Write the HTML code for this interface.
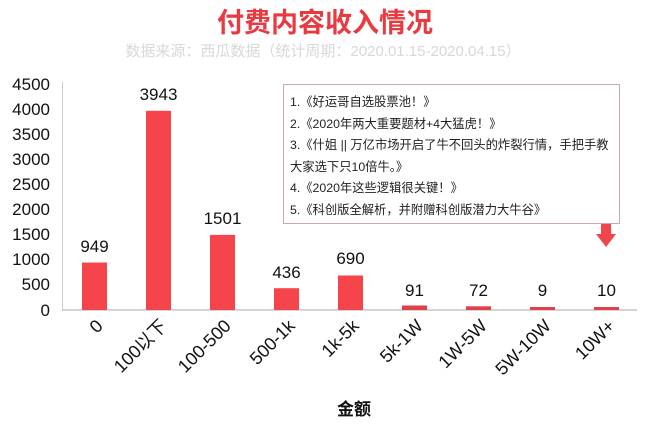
<!DOCTYPE html>
<html><head><meta charset="utf-8"><style>
body{margin:0;background:#fff;}
svg{display:block;font-family:"Liberation Sans","Noto Sans CJK SC",sans-serif;}
</style></head><body>
<svg width="650" height="433" viewBox="0 0 650 433" xmlns="http://www.w3.org/2000/svg">
<rect width="650" height="433" fill="#fff"/>
<text x="325" y="32" text-anchor="middle" font-size="27" font-weight="bold" fill="#e83a40">付费内容收入情况</text>
<text x="323" y="56" text-anchor="middle" font-size="15" fill="#d8d8d8">数据来源：西瓜数据（统计周期：2020.01.15-2020.04.15）</text>
<g font-size="17" fill="#111" text-anchor="end">
<text x="50" y="90">4500</text><text x="50" y="115">4000</text><text x="50" y="140">3500</text>
<text x="50" y="165">3000</text><text x="50" y="190">2500</text><text x="50" y="215">2000</text>
<text x="50" y="240">1500</text><text x="50" y="265">1000</text><text x="50" y="290">500</text>
<text x="50" y="316">0</text>
</g>
<line x1="62.5" y1="82" x2="62.5" y2="310" stroke="#ccc"/>
<line x1="62" y1="310" x2="637" y2="310" stroke="#bbb" stroke-width="1.2"/>
<g fill="#f5444a">
<rect x="82" y="262.5" width="25" height="47.5"/>
<rect x="146" y="110.8" width="25" height="199.2"/>
<rect x="210" y="234.9" width="25" height="75.1"/>
<rect x="274" y="288.2" width="25" height="21.8"/>
<rect x="338" y="275.5" width="25" height="34.5"/>
</g>
<g fill="#e04048">
<rect x="402" y="305.5" width="25" height="4.5"/>
<rect x="466" y="306.3" width="25" height="3.7"/>
<rect x="530" y="307" width="25" height="3"/>
<rect x="594" y="307" width="25" height="3"/>
</g>
<g font-size="17" fill="#111" text-anchor="middle">
<text x="94.5" y="252">949</text><text x="158.5" y="100">3943</text><text x="222.5" y="224">1501</text>
<text x="286.5" y="278">436</text><text x="350.5" y="264">690</text><text x="414.5" y="296">91</text>
<text x="478.5" y="296">72</text><text x="542.5" y="296">9</text><text x="606.5" y="296">10</text>
</g>
<g font-size="18" fill="#111" text-anchor="end">
<text transform="translate(104,327) rotate(-45)">0</text>
<text transform="translate(168,327) rotate(-45)">100以下</text>
<text transform="translate(232,327) rotate(-45)">100-500</text>
<text transform="translate(296,327) rotate(-45)">500-1k</text>
<text transform="translate(360,327) rotate(-45)">1k-5k</text>
<text transform="translate(424,327) rotate(-45)">5k-1W</text>
<text transform="translate(488,327) rotate(-45)">1W-5W</text>
<text transform="translate(552,327) rotate(-45)">5W-10W</text>
<text transform="translate(616,327) rotate(-45)">10W+</text>
</g>
<text x="354" y="415" text-anchor="middle" font-size="17" font-weight="bold" fill="#111">金额</text>
<rect x="283.5" y="84.5" width="336" height="139" fill="#fff" stroke="#c9a9aa"/>
<g font-size="12.3" fill="#222">
<text x="290" y="106">1.《好运哥自选股票池！》</text>
<text x="290" y="128">2.《2020年两大重要题材+4大猛虎！》</text>
<text x="290" y="149">3.《什姐 || 万亿市场开启了牛不回头的炸裂行情，手把手教</text>
<text x="290" y="171">大家选下只10倍牛。》</text>
<text x="290" y="192">4.《2020年这些逻辑很关键！》</text>
<text x="290" y="214">5.《科创版全解析，并附赠科创版潜力大牛谷》</text>
</g>
<rect x="601" y="224" width="10" height="10" fill="#f0454b"/>
<polygon points="596,234 616,234 606,247" fill="#f0454b"/>
</svg>
</body></html>
